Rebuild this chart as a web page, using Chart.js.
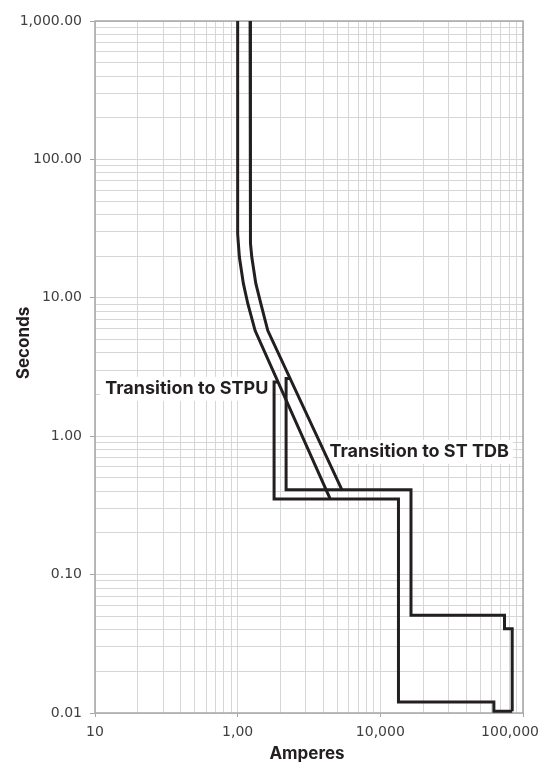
<!DOCTYPE html>
<html>
<head>
<meta charset="utf-8">
<script src="https://cdn.jsdelivr.net/npm/chart.js@4.4.0/dist/chart.umd.min.js"></script>
<style>
html,body{margin:0;padding:0;background:#fff;}
canvas{display:block;}
</style>
</head>
<body>
<canvas id="tripChart" width="544" height="762"></canvas>
<script>
// tick values + the labels exactly as printed on the sheet
const xTickValues = [100, 1000, 10000, 100000];
const xTickLabels = ['10', '1,00', '10,000', '100,000'];
const yTickValues = [0.01, 0.1, 1, 10, 100, 1000];
const yTickLabels = ['0.01', '0.10', '1.00', '10.00', '100.00', '1,000.00'];

// long time band (amps, seconds)
const minLongAmps = [1000, 1000, 1011, 1028, 1096, 1177, 1325, 4450];
const minLongSecs = [1000, 29, 24.7, 19.7, 12.7, 9.1, 5.8, 0.352];
const maxLongAmps = [1222, 1222, 1237, 1256, 1340, 1452, 1626, 5370];
const maxLongSecs = [1000, 29, 24.7, 19.7, 12.7, 9.1, 5.8, 0.411];

// short time / instantaneous steps
const minShortAmps = [1930, 1800, 1800, 13400, 13400, 62500, 62500, 84000];
const minShortSecs = [2.46, 2.46, 0.352, 0.352, 0.012, 0.012, 0.0103, 0.0103];
const maxShortAmps = [2334, 2185, 2185, 16400, 16400, 74200, 74200, 84000, 84000];
const maxShortSecs = [2.61, 2.61, 0.411, 0.411, 0.0508, 0.0508, 0.0407, 0.0407, 0.0103];

const noteTexts = ['Transition to STPU', 'Transition to ST TDB'];
const noteAmps = [1640, 4400];
const noteSecs = [2.2, 0.77];

const LINE = '#231f20';
const GRID = '#d6d6d6';
const FRAME = '#a6a6a6';

function zip(xs, ys){
  return xs.map((x, i) => ({x: x, y: ys[i]}));
}

function isDecade(v){
  if(!v) return false;
  const l = Math.log10(v);
  return Math.abs(l - Math.round(l)) < 1e-6;
}

// 1..9 per decade, so grid looks like log paper
function logPaper(min, max){
  const out = [];
  for(let e = Math.round(Math.log10(min)); Math.pow(10, e) <= max * 1.0001; e++){
    for(let m = 1; m <= 9; m++){
      const v = +(m * Math.pow(10, e)).toPrecision(6);
      if(v >= min * 0.9999 && v <= max * 1.0001) out.push({value: v, major: m === 1});
    }
  }
  return out;
}

function line(label, xs, ys){
  return {
    label: label,
    data: zip(xs, ys),
    showLine: true,
    borderColor: LINE,
    borderWidth: 3,
    pointRadius: 0,
    tension: 0,
    borderJoinStyle: 'miter',
    fill: false
  };
}

const sheetPlugin = {
  id: 'sheet',
  beforeDatasetsDraw(chart){
    const {ctx, chartArea: a} = chart;
    const x = chart.scales.x, y = chart.scales.y;
    ctx.save();
    ctx.strokeStyle = FRAME;
    ctx.lineWidth = 1.5;
    ctx.strokeRect(a.left, a.top, a.right - a.left, a.bottom - a.top);

    ctx.font = 'bold 18px Inter';
    ctx.textBaseline = 'middle';
    ctx.textAlign = 'left';
    noteTexts.forEach((t, i) => {
      const px = x.getPixelForValue(noteAmps[i]);
      const py = y.getPixelForValue(noteSecs[i]);
      const w = ctx.measureText(t).width;
      const left = i === 0 ? px - w : px;   // first note sits left of its point
      ctx.fillStyle = '#fff';
      ctx.fillRect(left - 5, py - 12, w + 9, 24);
      ctx.fillStyle = LINE;
      ctx.fillText(t, left, py);
    });
    ctx.restore();
  },
  afterDraw(chart){
    const {ctx, chartArea: a} = chart;
    const x = chart.scales.x;
    ctx.save();
    ctx.font = '14px "DejaVu Sans"';
    ctx.fillStyle = '#404040';
    ctx.textBaseline = 'middle';
    ctx.textAlign = 'center';
    xTickValues.forEach((v, i) => {
      let px = x.getPixelForValue(v);
      const w = ctx.measureText(xTickLabels[i]).width;
      if(px + w / 2 > chart.width - 5) px = chart.width - 5 - w / 2;
      ctx.fillText(xTickLabels[i], px, a.bottom + 19);
    });

    ctx.font = 'bold 17px Inter';
    ctx.fillStyle = LINE;
    ctx.textBaseline = 'alphabetic';
    ctx.fillText('Amperes', (a.left + a.right) / 2 - 2, 758.5);

    ctx.translate(28.5, 343);
    ctx.rotate(-Math.PI / 2);
    ctx.fillText('Seconds', 0, 0);
    ctx.restore();
  }
};

const ctx = document.getElementById('tripChart');

new Chart(ctx, {
  type: 'scatter',
  data: {
    datasets: [
      line('min long time', minLongAmps, minLongSecs),
      line('max long time', maxLongAmps, maxLongSecs),
      line('min short time', minShortAmps, minShortSecs),
      line('max short time', maxShortAmps, maxShortSecs)
    ]
  },
  options: {
    responsive: false,
    animation: false,
    devicePixelRatio: 1,
    layout: {padding: {top: 21, right: 21, left: 0, bottom: 0}},
    plugins: {legend: {display: false}, tooltip: {enabled: false}},
    scales: {
      x: {
        type: 'logarithmic',
        min: 100,
        max: 100000,
        afterBuildTicks: s => { s.ticks = logPaper(100, 100000); },
        afterFit: s => { s.height = 49; },
        border: {display: false},
        grid: {
          color: GRID,
          lineWidth: 1,
          tickLength: 4,
          tickColor: c => (c.tick && isDecade(c.tick.value)) ? FRAME : 'rgba(0,0,0,0)'
        },
        ticks: {display: false}
      },
      y: {
        type: 'logarithmic',
        min: 0.01,
        max: 1000,
        afterBuildTicks: s => { s.ticks = logPaper(0.01, 1000); },
        afterFit: s => { s.width = 95; },
        border: {display: false},
        grid: {
          color: GRID,
          lineWidth: 1,
          tickLength: 5,
          tickColor: c => (c.tick && isDecade(c.tick.value)) ? FRAME : 'rgba(0,0,0,0)'
        },
        ticks: {
          autoSkip: false,
          padding: 8,
          color: '#404040',
          font: {family: 'DejaVu Sans', size: 14},
          callback: function(value){
            const i = yTickValues.findIndex(t => Math.abs(t - value) / t < 1e-6);
            return i >= 0 ? yTickLabels[i] : '';
          }
        }
      }
    }
  },
  plugins: [sheetPlugin]
});
</script>
</body>
</html>
